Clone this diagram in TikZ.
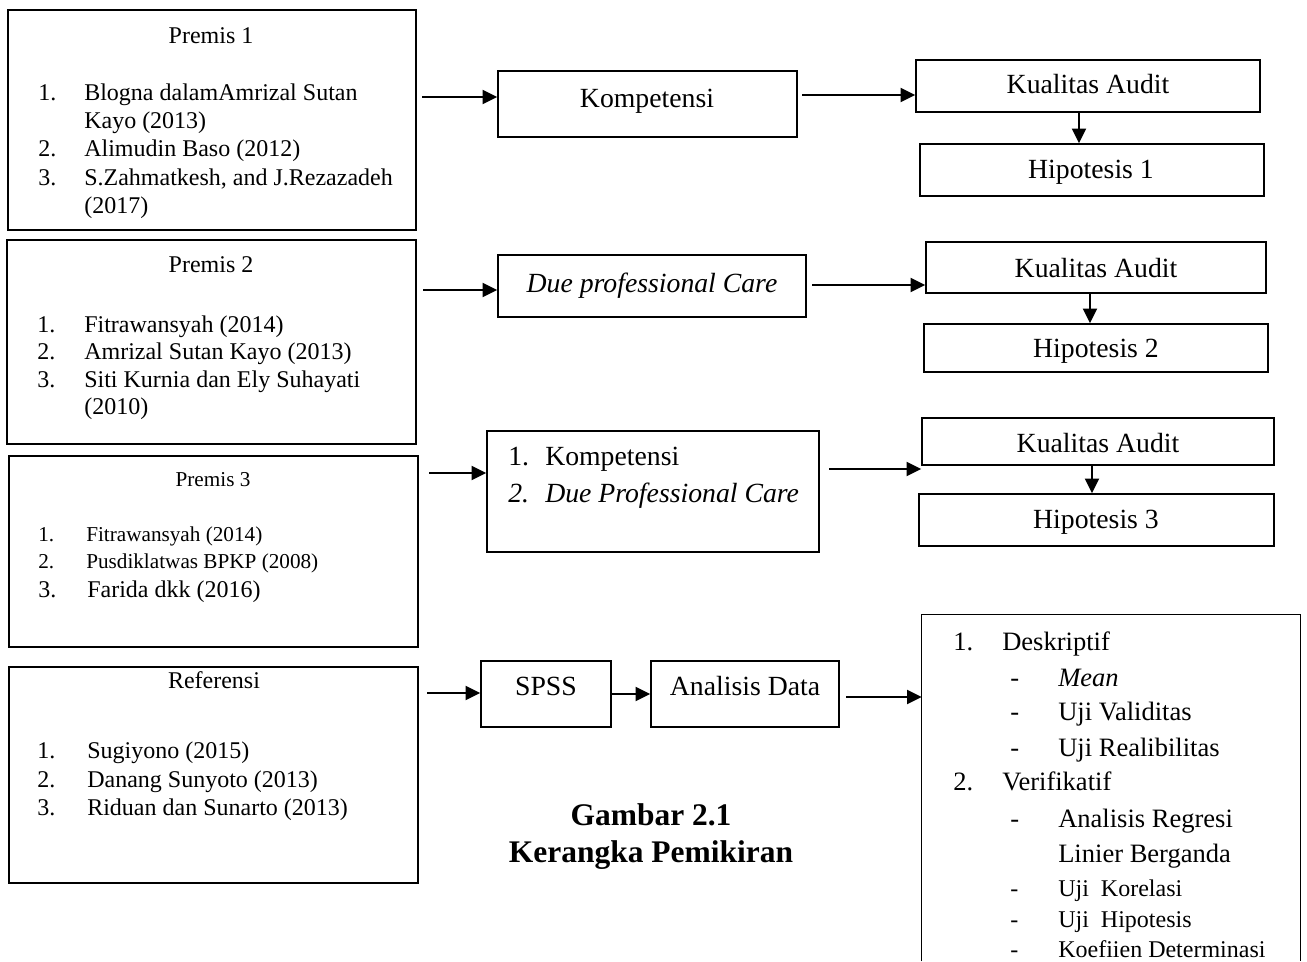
\documentclass[tikz,border=0pt]{standalone}
\usepackage{fontspec}
\setmainfont{Liberation Serif}
\usetikzlibrary{arrows.meta,fit,calc}
\newcommand\szM{\fontsize{20.8pt}{25pt}\selectfont}
\newcommand\szL{\fontsize{18pt}{21pt}\selectfont}
\newcommand\szS{\fontsize{15.9pt}{19pt}\selectfont}
\newcommand\szR{\fontsize{19.9pt}{24pt}\selectfont}
\newcommand\szC{\fontsize{23.6pt}{28pt}\selectfont}
\begin{document}
\begin{tikzpicture}[x=0.75pt,y=-0.75pt,
  box/.style={draw, line width=1.1pt, inner sep=0pt},
  hid/.style={inner sep=0pt},
  arr/.style={line width=1.5pt, -{Triangle[length=11pt,width=10.5pt]}},
  tl/.style={anchor=base west, inner sep=0pt},
  tc/.style={anchor=base, inner sep=0pt}]
\useasboundingbox (0,0) rectangle (1307,961);

% ---------- left boxes ----------
\node[box, fit={(8,10) (416,230)}] (p1) {};
\node[tc, font=\szL] (p1t) at (211,43) {Premis 1};
\node[tl, font=\szL] at (38,100) {1.};
\node[tl, font=\szL] at (84,100) {Blogna dalamAmrizal Sutan};
\node[tl, font=\szL] at (84,128) {Kayo (2013)};
\node[tl, font=\szL] at (38,156) {2.};
\node[tl, font=\szL] at (84,156) {Alimudin Baso (2012)};
\node[tl, font=\szL] at (38,185) {3.};
\node[tl, font=\szL] at (84,185) {S.Zahmatkesh, and J.Rezazadeh};
\node[tl, font=\szL] at (84,213) {(2017)};

\node[box, fit={(7,240) (416,444)}] (p2) {};
\node[tc, font=\szL] (p2t) at (211,272) {Premis 2};
\node[tl, font=\szL] at (37,332) {1.};
\node[tl, font=\szL] at (84,332) {Fitrawansyah (2014)};
\node[tl, font=\szL] at (37,359) {2.};
\node[tl, font=\szL] at (84,359) {Amrizal Sutan Kayo (2013)};
\node[tl, font=\szL] at (37,387) {3.};
\node[tl, font=\szL] at (84,387) {Siti Kurnia dan Ely Suhayati};
\node[tl, font=\szL] at (84,414) {(2010)};

\node[box, fit={(9,456) (418,647)}] (p3) {};
\node[tc, font=\szS] (p3t) at (213,486) {Premis 3};
\node[tl, font=\szS] at (38,541) {1.};
\node[tl, font=\szS] at (86,541) {Fitrawansyah (2014)};
\node[tl, font=\szS] at (38,568) {2.};
\node[tl, font=\szS] at (86,568) {Pusdiklatwas BPKP (2008)};
\node[tl, font=\szL] at (38,597) {3.};
\node[tl, font=\szL] at (87,597) {Farida dkk (2016)};

\node[box, fit={(9,667) (418,883)}] (rf) {};
\node[tc, font=\szL] (rft) at (214,688) {Referensi};
\node[tl, font=\szL] at (37,758) {1.};
\node[tl, font=\szL] at (87,758) {Sugiyono (2015)};
\node[tl, font=\szL] at (37,787) {2.};
\node[tl, font=\szL] at (87,787) {Danang Sunyoto (2013)};
\node[tl, font=\szL] at (37,815) {3.};
\node[tl, font=\szL] at (87,815) {Riduan dan Sunarto (2013)};

% ---------- middle boxes ----------
\node[box, fit={(498,71) (797,137)}] (k) {};
\node[tc, font=\szM] at (647,107) {Kompetensi};

\node[box, fit={(498,255) (806,317)}] (dpc) {};
\node[tc, font=\szM\itshape] at (652,292) {Due professional Care};

\node[box, fit={(487,431) (819,552)}] (kd) {};
\node[tl, font=\szM] at (508,465) {1.};
\node[tl, font=\szM] at (545,465) {Kompetensi};
\node[tl, font=\szM\itshape] at (508,502) {2.};
\node[tl, font=\szM\itshape] at (545,502) {Due Professional Care};

\node[box, fit={(481,661) (611,727)}] (spss) {};
\node[tc, font=\szM] at (546,695) {SPSS};
\node[box, fit={(651,661) (839,727)}] (ad) {};
\node[tc, font=\szM] at (745,695) {Analisis Data};

% ---------- right boxes ----------
\node[box, fit={(916,60) (1260,112)}] (ka1) {};
\node[tc, font=\szM] at (1088,93) {Kualitas Audit};
\node[box, fit={(920,144) (1264,196)}] (h1) {};
\node[tc, font=\szM] at (1091,178) {Hipotesis 1};

\node[box, fit={(926,242) (1266,293)}] (ka2) {};
\node[tc, font=\szM] at (1096,277) {Kualitas Audit};
\node[box, fit={(924,324) (1268,372)}] (h2) {};
\node[tc, font=\szM] at (1096,357) {Hipotesis 2};

\node[box, fit={(922,418) (1274,465)}] (ka3) {};
\node[tc, font=\szM] at (1098,452) {Kualitas Audit};
\node[box, fit={(919,494) (1274,546)}] (h3) {};
\node[tc, font=\szM] at (1096,528) {Hipotesis 3};

% final (open at the bottom edge)
\node[hid, fit={(922,615) (1300,961)}] (fin) {};
\draw[line width=1.1pt] (fin.south west) |- (fin.north east) -- (fin.south east);
\node[tl, font=\szR] at (953,650) {1.};
\node[tl, font=\szR] at (1002,650) {Deskriptif};
\node[tl, font=\szR] at (1010,686) {-};
\node[tl, font=\szR\itshape] at (1058,686) {Mean};
\node[tl, font=\szR] at (1010,720) {-};
\node[tl, font=\szR] at (1058,720) {Uji Validitas};
\node[tl, font=\szR] at (1010,756) {-};
\node[tl, font=\szR] at (1058,756) {Uji Realibilitas};
\node[tl, font=\szR] at (953,790) {2.};
\node[tl, font=\szR] at (1002,790) {Verifikatif};
\node[tl, font=\szR] at (1010,827) {-};
\node[tl, font=\szR] at (1058,827) {Analisis Regresi};
\node[tl, font=\szR] at (1058,862) {Linier Berganda};
\node[tl, font=\szL] at (1010,896) {-};
\node[tl, font=\szL] at (1058,896) {Uji~ Korelasi};
\node[tl, font=\szL] at (1010,927) {-};
\node[tl, font=\szL] at (1058,927) {Uji~ Hipotesis};
\node[tl, font=\szL] at (1010,957) {-};
\node[tl, font=\szL] at (1058,957) {Koefiien Determinasi};

% caption
\node[tc, font=\szC\bfseries] at (651,825) {Gambar 2.1};
\node[tc, font=\szC\bfseries] at (651,862) {Kerangka Pemikiran};

% ---------- arrows ----------
\coordinate (s1) at (422,97);
\draw[arr] (s1) -- (s1 -| k.west);
\coordinate (s2) at (802,95);
\draw[arr] (s2) -- (s2 -| ka1.west);
\coordinate (s3) at (423,290);
\draw[arr] (s3) -- (s3 -| dpc.west);
\coordinate (s4) at (812,285);
\draw[arr] (s4) -- (s4 -| ka2.west);
\coordinate (s5) at (429,473);
\draw[arr] (s5) -- (s5 -| kd.west);
\coordinate (s6) at (829,469);
\draw[arr] (s6) -- (s6 -| ka3.west);
\coordinate (s7) at (427,693);
\draw[arr] (s7) -- (s7 -| spss.west);
\draw[arr] (spss) -- (ad);
\coordinate (s9) at (846,697);
\draw[arr] (s9) -- (s9 -| fin.west);

\coordinate (v1) at (1079,0);
\draw[arr] (v1 |- ka1.south) -- (v1 |- h1.north);
\coordinate (v2) at (1090,0);
\draw[arr] (v2 |- ka2.south) -- (v2 |- h2.north);
\coordinate (v3) at (1092,0);
\draw[arr] (v3 |- ka3.south) -- (v3 |- h3.north);
\end{tikzpicture}
\end{document}
